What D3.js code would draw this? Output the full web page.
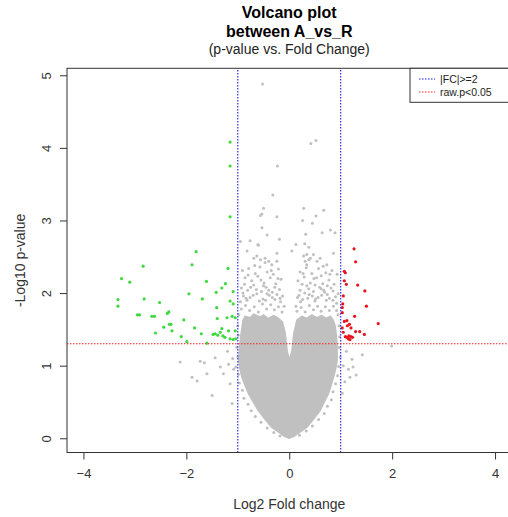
<!DOCTYPE html>
<html>
<head>
<meta charset="utf-8">
<script src="https://cdn.jsdelivr.net/npm/d3@7"></script>
<style>
  body { margin: 0; background: #fff; }
  svg text { font-family: "Liberation Sans", Arial, sans-serif; }
</style>
</head>
<body>
<div id="chart"></div>
<script>
// Volcano plot (log2 FC, -log10 p)

var xTicks = [-4, -2, 0, 2, 4];
var yTicks = [0, 1, 2, 3, 4, 5];
var fcCut = [-1, 1];            // |FC| >= 2
var pCut = -Math.log10(0.05);   // raw p < 0.05
var legendLabels = ["|FC|>=2", "raw.p<0.05"];

// outline of the dense grey core of the cloud (too many points to list)
var coreOutline = [
  [0, 0.0], [-0.1, 0.03], [-0.2, 0.08], [-0.34, 0.15], [-0.47, 0.26], [-0.6, 0.38],
  [-0.7, 0.5], [-0.79, 0.61], [-0.86, 0.73], [-0.92, 0.84], [-0.96, 0.96], [-0.98, 1.07],
  [-0.97, 1.2], [-0.96, 1.3], [-0.94, 1.42], [-0.92, 1.52], [-0.9, 1.62],
  [-0.86, 1.68], [-0.76, 1.66], [-0.69, 1.71], [-0.57, 1.67], [-0.5, 1.7], [-0.41, 1.65],
  [-0.3, 1.69], [-0.22, 1.66], [-0.13, 1.6],
  [-0.08, 1.45], [-0.04, 1.2], [0.0, 1.08], [0.05, 1.2], [0.09, 1.45],
  [0.15, 1.63], [0.25, 1.68], [0.34, 1.65], [0.44, 1.7], [0.53, 1.66], [0.63, 1.69],
  [0.72, 1.65], [0.8, 1.68], [0.86, 1.62], [0.89, 1.55], [0.91, 1.45],
  [0.93, 1.3], [0.93, 1.17], [0.93, 1.07], [0.9, 0.95], [0.86, 0.84], [0.81, 0.72],
  [0.76, 0.61], [0.68, 0.5], [0.6, 0.38], [0.47, 0.26], [0.34, 0.15], [0.2, 0.08], [0.1, 0.03]
];

// not significant genes outside the core
var greyPoints = [
  [-0.52, 4.88], [0.52, 4.10], [0.42, 4.06], [-0.23, 3.75], [-0.32, 3.35], [-0.50, 3.17],
  [0.28, 3.17], [0.67, 3.14], [-0.56, 3.07], [-0.53, 3.09], [-0.24, 3.05], [0.52, 3.06],
  [0.26, 3.00], [0.45, 2.96], [-0.53, 2.90], [0.80, 2.87], [0.89, 2.83], [0.64, 2.83],
  [0.32, 2.81], [-0.43, 2.80], [-0.19, 2.74], [-0.76, 2.72], [-0.95, 2.71], [0.13, 2.67],
  [0.30, 2.68], [-0.61, 2.67], [-0.60, 2.66], [0.38, 2.63], [-0.82, 2.58], [0.05, 2.58],
  [-0.24, 2.55], [0.86, 2.55], [0.34, 2.53], [0.47, 2.53], [-0.63, 2.51], [0.28, 2.51],
  [-0.69, 2.48], [-0.47, 2.48], [0.41, 2.48], [0.60, 2.48], [-0.56, 2.46], [0.38, 2.46],
  [-0.40, 2.44], [-0.24, 2.44], [0.31, 2.44], [0.54, 2.44], [-0.47, 2.42], [-0.34, 2.39],
  [0.73, 2.39], [0.34, 2.39],
  [-0.91, 2.31], [-0.79, 2.34], [-0.66, 2.27], [-0.57, 2.36], [-0.43, 2.29], [-0.31, 2.26],
  [-0.21, 2.33], [-0.86, 2.21], [-0.73, 2.17], [-0.61, 2.23], [-0.49, 2.14], [-0.37, 2.21],
  [-0.26, 2.13], [-0.16, 2.19], [-0.93, 2.07], [-0.81, 2.04], [-0.69, 2.11], [-0.54, 2.02],
  [-0.45, 2.08], [-0.33, 2.01], [-0.19, 2.05], [-0.89, 1.96], [-0.76, 1.94], [-0.63, 1.99],
  [-0.51, 1.92], [-0.39, 1.97], [-0.28, 1.91], [-0.13, 1.96], [-0.95, 1.88], [-0.82, 1.9],
  [-0.46, 1.9], [-0.17, 1.88], [-0.1, 1.82], [-0.98, 1.7], [-1.0, 1.55], [-0.99, 1.42],
  [-0.93, 1.78], [-0.85, 1.83], [-0.77, 1.76], [-0.68, 1.81], [-0.6, 1.74], [-0.52, 1.85],
  [-0.44, 1.78], [-0.36, 1.84], [-0.29, 1.77], [-0.21, 1.81], [-0.14, 1.74], [-0.9, 2.0],
  [-0.84, 1.93], [-0.7, 1.97], [-0.58, 1.89], [-0.43, 1.99], [-0.33, 1.94], [-0.24, 1.98],
  [-0.18, 1.93], [-0.87, 2.12], [-0.75, 2.08], [-0.64, 2.05], [-0.5, 2.1], [-0.4, 2.04],
  [-0.28, 2.08], [-0.22, 2.2], [-0.55, 2.18], [-0.8, 2.25], [-0.67, 2.38], [-0.35, 2.31],
  [0.21, 2.29], [0.33, 2.35], [0.44, 2.27], [0.57, 2.34], [0.71, 2.28], [0.83, 2.31],
  [0.93, 2.26], [0.17, 2.17], [0.29, 2.22], [0.41, 2.14], [0.53, 2.21], [0.65, 2.13],
  [0.77, 2.18], [0.87, 2.12], [0.21, 2.04], [0.34, 2.1], [0.47, 2.02], [0.59, 2.08],
  [0.69, 2.01], [0.81, 2.07], [0.95, 1.99], [0.16, 1.94], [0.26, 1.91], [0.39, 1.98],
  [0.51, 1.92], [0.63, 1.97], [0.78, 1.93], [0.9, 1.95], [0.22, 1.88], [0.5, 1.89],
  [0.72, 1.9], [0.92, 1.86], [0.13, 1.82], [0.95, 1.7], [0.97, 1.55], [0.98, 1.4],
  [0.15, 1.75], [0.23, 1.8], [0.31, 1.74], [0.39, 1.83], [0.47, 1.77], [0.55, 1.82],
  [0.62, 1.75], [0.7, 1.81], [0.78, 1.76], [0.86, 1.82], [0.92, 1.76], [0.19, 1.97],
  [0.3, 2.0], [0.36, 1.93], [0.45, 1.96], [0.56, 1.94], [0.67, 2.04], [0.74, 1.98],
  [0.85, 1.9], [0.25, 2.12], [0.38, 2.06], [0.5, 2.11], [0.62, 2.06], [0.74, 2.1],
  [0.85, 2.03], [0.27, 2.27], [0.48, 2.2], [0.62, 2.24], [0.79, 2.26], [0.66, 2.37],
  [-1.02, 1.25], [-1.0, 1.12], [-1.04, 0.98], [-0.99, 0.88], [-0.97, 0.76], [-0.91, 0.66],
  [-0.88, 0.55], [-0.8, 0.47], [-0.74, 0.38], [-0.66, 0.3], [-0.55, 0.22], [-0.43, 0.14],
  [-0.3, 0.08], [-0.18, 0.03],
  [0.97, 1.25], [0.99, 1.12], [0.96, 0.99], [0.94, 0.86], [0.9, 0.75], [0.85, 0.64],
  [0.82, 0.53], [0.74, 0.44], [0.68, 0.34], [0.57, 0.26], [0.45, 0.17], [0.33, 0.1], [0.2, 0.04],
  [-2.12, 1.05], [-1.73, 1.06], [-1.65, 1.04], [-1.44, 1.11], [-1.79, 0.79], [-1.50, 0.59],
  [-1.34, 0.98], [-1.28, 0.89], [-1.15, 0.75], [-1.11, 0.48], [-1.89, 0.84], [-1.60, 0.89],
  [-1.2, 1.2], [-1.1, 1.1], [-1.08, 0.95], [-1.18, 1.02],
  [1.99, 1.27], [1.42, 1.15], [1.24, 0.98], [1.30, 0.87], [1.18, 0.84], [1.15, 0.95],
  [1.11, 1.2], [1.22, 1.09], [1.05, 1.0], [1.08, 0.78], [1.03, 0.62]
];

// down regulated (FC <= -2, p < 0.05)
var downPoints = [
  [-1.15, 4.08], [-1.15, 3.75], [-1.15, 3.05], [-1.81, 2.57], [-2.84, 2.37], [-1.89, 2.39],
  [-3.26, 2.20], [-3.10, 2.15], [-1.19, 2.34], [-1.61, 2.16], [-1.24, 2.13], [-1.31, 2.07],
  [-1.42, 2.01], [-1.95, 1.99], [-1.09, 2.02], [-3.33, 1.91], [-3.33, 1.82], [-2.82, 1.92],
  [-2.52, 1.87], [-1.69, 1.92], [-1.15, 1.89], [-1.09, 1.85], [-1.41, 1.80], [-2.95, 1.70],
  [-2.91, 1.70], [-2.67, 1.68], [-2.62, 1.68], [-2.37, 1.72], [-2.34, 1.74], [-2.05, 1.63],
  [-2.33, 1.57], [-2.30, 1.57], [-2.44, 1.53], [-2.60, 1.45], [-2.28, 1.48], [-1.84, 1.52],
  [-1.40, 1.65], [-1.21, 1.66], [-1.11, 1.68], [-1.05, 1.66], [-2.10, 1.40], [-1.99, 1.33],
  [-1.71, 1.44], [-1.48, 1.43], [-1.44, 1.44], [-1.39, 1.42], [-1.34, 1.46], [-1.29, 1.41],
  [-1.25, 1.39], [-1.31, 1.51], [-1.18, 1.48], [-1.05, 1.48], [-1.15, 1.37], [-1.09, 1.36],
  [-1.04, 1.37], [-1.6, 1.31]
];

// up regulated (FC >= 2, p < 0.05)
var upPoints = [
  [1.26, 2.61], [1.29, 2.43], [1.07, 2.30], [1.09, 2.28], [1.07, 2.17], [1.11, 2.12],
  [1.33, 2.11], [1.47, 2.03], [1.05, 1.96], [1.50, 1.82], [1.04, 1.85], [1.03, 1.80],
  [1.03, 1.73], [1.27, 1.68], [1.73, 1.58], [1.07, 1.61], [1.12, 1.62], [1.17, 1.57],
  [1.13, 1.55], [1.20, 1.52], [1.03, 1.52], [1.29, 1.47], [1.37, 1.47], [1.05, 1.46],
  [1.46, 1.43], [1.09, 1.40], [1.12, 1.39], [1.16, 1.41], [1.20, 1.40], [1.23, 1.39],
  [1.15, 1.37], [1.18, 1.36]
];

var width = 508, height = 517;

var svg = d3.select("#chart").append("svg")
            .attr("width", width)
            .attr("height", height);

// plot region = data limits +/- 4% like R
var xAxis = d3.scaleLinear().domain([-4.32, 4.32]).range([67, 511.5]);
var yAxis = d3.scaleLinear().domain([-0.196, 5.096]).range([452.5, 68.3]);

var grey = "#c0c0c0";

// dense core
svg.append("path")
    .datum(coreOutline)
    .attr("d", d3.line().x(d => xAxis(d[0])).y(d => yAxis(d[1])).curve(d3.curveLinearClosed))
    .attr("fill", grey)
    .attr("stroke", grey)
    .attr("stroke-width", 1.5);

svg.append("g").selectAll("circle")
    .data(greyPoints)
    .enter().append("circle")
        .attr("cx", d => xAxis(d[0]))
        .attr("cy", d => yAxis(d[1]))
        .attr("r", 1.5)
        .attr("fill", grey);

svg.append("g").selectAll("circle")
    .data(downPoints)
    .enter().append("circle")
        .attr("cx", d => xAxis(d[0]))
        .attr("cy", d => yAxis(d[1]))
        .attr("r", 1.6)
        .attr("fill", "#3fd83f");

svg.append("g").selectAll("circle")
    .data(upPoints)
    .enter().append("circle")
        .attr("cx", d => xAxis(d[0]))
        .attr("cy", d => yAxis(d[1]))
        .attr("r", 1.6)
        .attr("fill", "#e8141c");

// cut off lines
svg.append("g").selectAll("line")
    .data(fcCut)
    .enter().append("line")
        .attr("x1", d => xAxis(d)).attr("x2", d => xAxis(d))
        .attr("y1", yAxis.range()[0]).attr("y2", yAxis.range()[1])
        .attr("stroke", "#1a1aee")
        .attr("stroke-width", 1.1)
        .attr("stroke-dasharray", "1.5,1.5");

svg.append("line")
    .attr("x1", xAxis.range()[0]).attr("x2", xAxis.range()[1])
    .attr("y1", yAxis(pCut)).attr("y2", yAxis(pCut))
    .attr("stroke", "#f02020")
    .attr("stroke-width", 1.1)
    .attr("stroke-dasharray", "1.5,1.5");

// box
svg.append("rect")
    .attr("x", xAxis.range()[0])
    .attr("y", yAxis.range()[1])
    .attr("width", xAxis.range()[1] - xAxis.range()[0])
    .attr("height", yAxis.range()[0] - yAxis.range()[1])
    .attr("fill", "none")
    .attr("stroke", "#333")
    .attr("stroke-width", 1);

// axes
var gx = svg.append("g")
    .attr("transform", "translate(0," + yAxis.range()[0] + ")")
    .call(d3.axisBottom(xAxis).tickValues(xTicks).tickSize(7).tickPadding(9).tickSizeOuter(0));
gx.select(".domain").remove();
gx.selectAll("line").attr("stroke", "#333");
gx.selectAll("text").attr("font-size", 13).attr("fill", "#333");

var gy = svg.append("g")
    .attr("transform", "translate(" + xAxis.range()[0] + ",0)")
    .call(d3.axisLeft(yAxis).tickValues(yTicks).tickFormat(d3.format("d")).tickSize(7).tickSizeOuter(0));
gy.select(".domain").remove();
gy.selectAll("line").attr("stroke", "#333");
gy.selectAll("text")
    .attr("font-size", 13)
    .attr("fill", "#333")
    .attr("x", null).attr("dy", null)
    .attr("text-anchor", "middle")
    .attr("transform", "translate(-16,0) rotate(-90)");

// titles
var cx = (xAxis.range()[0] + xAxis.range()[1]) / 2;
svg.append("text").attr("x", cx).attr("y", 18).attr("text-anchor", "middle")
    .attr("font-size", 16).attr("font-weight", "bold").text("Volcano plot");
svg.append("text").attr("x", cx).attr("y", 37).attr("text-anchor", "middle")
    .attr("font-size", 16).attr("font-weight", "bold").text("between A_vs_R");
svg.append("text").attr("x", cx).attr("y", 54).attr("text-anchor", "middle")
    .attr("font-size", 14).attr("fill", "#222").text("(p-value vs. Fold Change)");

svg.append("text").attr("x", cx).attr("y", 509).attr("text-anchor", "middle")
    .attr("font-size", 14).attr("fill", "#333").text("Log2 Fold change");
svg.append("text")
    .attr("transform", "translate(25," + ((yAxis.range()[0] + yAxis.range()[1]) / 2) + ") rotate(-90)")
    .attr("text-anchor", "middle")
    .attr("font-size", 14).attr("fill", "#333").text("-Log10 p-value");

// legend
var legendColors = ["#1a1aee", "#f02020"];
var legend = svg.append("g");
legend.append("rect")
    .attr("x", 410).attr("y", yAxis.range()[1])
    .attr("width", 110).attr("height", 34)
    .attr("fill", "#fff").attr("stroke", "#333");
legend.selectAll("line")
    .data(legendLabels)
    .enter().append("line")
        .attr("x1", 419).attr("x2", 435)
        .attr("y1", (d, i) => 79 + i * 13).attr("y2", (d, i) => 79 + i * 13)
        .attr("stroke", (d, i) => legendColors[i])
        .attr("stroke-dasharray", "1.5,1.5");
legend.selectAll("text")
    .data(legendLabels)
    .enter().append("text")
        .attr("x", 440)
        .attr("y", (d, i) => 79 + i * 13)
        .attr("dy", "0.35em")
        .attr("font-size", 10.5)
        .attr("fill", "#222")
        .text(d => d);
</script>
</body>
</html>
